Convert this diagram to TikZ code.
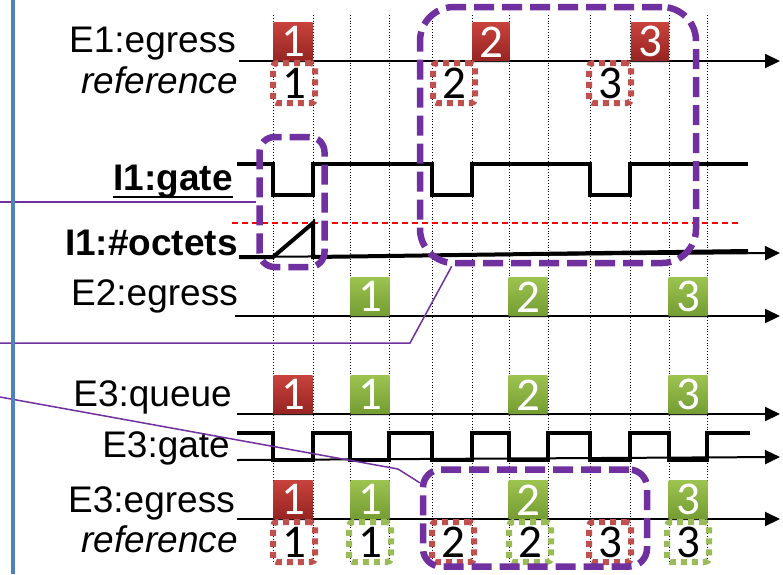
\documentclass[tikz,border=0pt]{standalone}
\usepackage{fontspec}
\setmainfont{Liberation Sans}
\newfontfamily\digitfont{Carlito}
\usepackage{xcolor}
\usetikzlibrary{arrows.meta,shadows}

\definecolor{pktred}{RGB}{200,66,60}
\definecolor{pktreddark}{RGB}{150,36,34}
\definecolor{pktgreen}{RGB}{156,194,80}
\definecolor{pktgreendark}{RGB}{116,156,50}
\definecolor{refred}{RGB}{192,80,77}
\definecolor{refgreen}{RGB}{155,187,89}
\definecolor{hlpurple}{RGB}{112,48,160}
\definecolor{railblue}{RGB}{79,129,189}

\begin{document}
\begin{tikzpicture}[x=1pt, y=-1pt,
    lbl/.style={inner sep=0pt, anchor=base east, font=\fontsize{37}{40}\selectfont},
    axis/.style={line width=2pt, -{Triangle[length=15pt,width=14pt]}},
    wave/.style={line width=4.5pt, line join=miter},
    pkt/.style={minimum width=39pt, minimum height=38pt, inner sep=0pt, anchor=south, text=white,
        font=\digitfont\fontsize{47}{47}\selectfont,
        drop shadow={opacity=0.25, shadow xshift=-1pt, shadow yshift=-2pt}},
    redpkt/.style={pkt, top color=pktred, bottom color=pktreddark},
    greenpkt/.style={pkt, top color=pktgreen, bottom color=pktgreendark},
    refbox/.style={minimum width=42pt, minimum height=40pt, inner sep=0pt, anchor=north,
        line width=6pt, dash pattern=on 6pt off 5pt, rounded corners=4pt,
        font=\digitfont\fontsize{47}{47}\selectfont},
    redref/.style={refbox, draw=refred},
    greenref/.style={refbox, draw=refgreen},
    window/.style={draw=hlpurple, line width=6.5pt, dash pattern=on 20pt off 8pt, inner sep=0pt},
    link/.style={hlpurple, line width=1.5pt}]
    \useasboundingbox (0,0) rectangle (783,574);

    % time grid
    \foreach \gx in {273,313,350,389,432,472,509,548,590,630,669,707}
        \draw[dotted, line width=0.8pt] (\gx,15) -- (\gx,563);

    % E1
    \node[lbl] (e1lbl) at (236,52) {E1:egress};
    \node[lbl] (e1ref) at (238,93) {\itshape reference};
    \draw[axis] (239,61) -- (780,61);
    \node[redpkt] (e1p1) at (293,61) {1};
    \node[redpkt, minimum width=37pt] (e1p2) at (491,61) {2};
    \node[redpkt, minimum width=38pt] (e1p3) at (650,61) {3};
    \node[redref] (e1r1) at (294,60) {1};
    \node[redref] (e1r2) at (454,60) {2};
    \node[redref] (e1r3) at (610,60) {3};

    % I1 gate and octet counter
    \node[lbl] (gatelbl) at (233,190) {\bfseries I1:gate};
    \draw[line width=2.5pt] ([yshift=-7pt]gatelbl.base west) -- ([yshift=-7pt]gatelbl.base east);
    \draw[wave] (237,164) -| (273,195) -| (313,164) -| (432,195) -| (472,164)
        -| (590,195) -| (630,164) -- (748,164);
    \draw[red, line width=1.5pt, dash pattern=on 6pt off 4pt] (232,223) -- (740,223);
    \node[lbl] (octlbl) at (238,255) {\bfseries I1:\#octets};
    \draw[axis] (239,257) -- (780,253);
    \draw[wave, line width=4pt] (239,257) -- (273,257) -- (313,223) -- (313,257) -- (748,251);

    % E2
    \node[lbl] (e2lbl) at (238,305) {E2:egress};
    \draw[axis] (235,316) -- (780,316);
    \node[greenpkt] (e2p1) at (370,316) {1};
    \node[greenpkt] (e2p2) at (528,316) {2};
    \node[greenpkt] (e2p3) at (688,316) {3};

    % E3 queue
    \node[lbl] (qlbl) at (232,406) {E3:queue};
    \draw[axis] (237,414) -- (780,414);
    \node[redpkt] (qp1) at (293,414) {1};
    \node[greenpkt] (qp2) at (370,414) {1};
    \node[greenpkt] (qp3) at (528,414) {2};
    \node[greenpkt] (qp4) at (688,414) {3};

    % E3 gate
    \node[lbl] (e3gatelbl) at (230,457) {E3:gate};
    \draw[axis] (237,460) -- (780,457);
    \draw[wave] (237,433) -| (273,460) -| (313,433) -| (350,460) -| (389,433)
        -| (432,460) -| (472,433) -| (509,460) -| (548,433) -| (590,460)
        -| (630,433) -| (669,460) -| (707,433) -- (750,433);

    % E3 egress
    \node[lbl] (e3lbl) at (235,512) {E3:egress};
    \node[lbl] (e3ref) at (238,552) {\itshape reference};
    \draw[axis] (237,519) -- (780,519);
    \node[redpkt] (e3p1) at (293,519) {1};
    \node[greenpkt] (e3p2) at (370,519) {1};
    \node[greenpkt] (e3p3) at (528,519) {2};
    \node[greenpkt] (e3p4) at (688,519) {3};
    \node[redref] (e3r1) at (294,519) {1};
    \node[greenref] (e3r2) at (370,519) {1};
    \node[redref] (e3r3) at (453,519) {2};
    \node[greenref] (e3r4) at (530,519) {2};
    \node[redref] (e3r5) at (610,519) {3};
    \node[greenref] (e3r6) at (688,519) {3};

    % highlighted windows
    \node[window, minimum width=65pt, minimum height=130pt, rounded corners=15pt] (gatewin) at (292,202) {};
    \node[window, minimum width=276pt, minimum height=256pt, rounded corners=34pt] (e1win) at (558,135) {};
    \node[window, minimum width=224pt, minimum height=97pt, rounded corners=18pt] (e3win) at (535,518) {};

    % links to the windows
    \coordinate (tapA) at (0,202);
    \coordinate (tapB) at (0,343);
    \coordinate (kneeB) at (410,343);
    \coordinate (tapC) at (0,397);
    \coordinate (kneeC) at (398,469);
    \draw[link] (tapA) -- (gatewin.west);
    \draw[link] (tapB) -- (kneeB) -- (e1win.-129);
    \draw[link] (tapC) -- (kneeC) -- (e3win.163);

    % left rail
    \draw[railblue, line width=4pt] (13,0) -- (13,574);
\end{tikzpicture}
\end{document}
